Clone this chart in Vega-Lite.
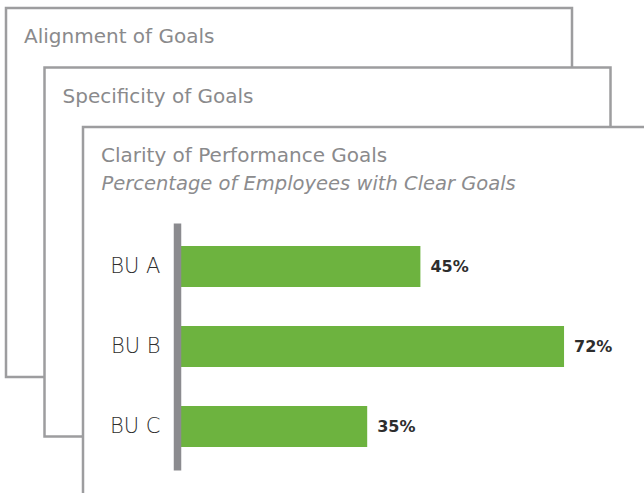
{
  "$schema": "https://vega.github.io/schema/vega-lite/v6.json",
  "width": 644,
  "height": 493,
  "autosize": {"type": "none"},
  "padding": 0,
  "background": "white",
  "config": {"view": {"stroke": null}, "font": "DejaVu Sans"},
  "resolve": {"scale": {"x": "independent", "y": "independent"}, "axis": {"x": "independent", "y": "independent"}},
  "layer": [
    {
      "data": {"values": [
        {"level": 0, "title": "Alignment of Goals", "subtitle": ""},
        {"level": 1, "title": "Specificity of Goals", "subtitle": ""},
        {"level": 2, "title": "Clarity of Performance Goals", "subtitle": "Percentage of Employees with Clear Goals"}
      ]},
      "encoding": {
        "x": {"field": "level", "type": "quantitative", "scale": {"domain": [0, 1], "range": [289, 327.5], "zero": false, "nice": false}, "axis": null},
        "y": {"field": "level", "type": "quantitative", "scale": {"domain": [0, 1], "range": [192.5, 252], "zero": false, "nice": false}, "axis": null}
      },
      "layer": [
        {"mark": {"type": "rect", "width": 566, "height": 369, "fill": "white", "stroke": "#9d9d9f", "strokeWidth": 2.5}},
        {"mark": {"type": "text", "align": "left", "baseline": "middle", "dx": -265, "dy": -155.5, "fontSize": 20, "fontWeight": 400, "color": "#8a8a8c"},
         "encoding": {"text": {"field": "title"}}},
        {"mark": {"type": "text", "align": "left", "baseline": "middle", "dx": -264.5, "dy": -127.5, "fontSize": 19.5, "fontStyle": "italic", "fontWeight": 400, "color": "#8c8c8e"},
         "encoding": {"text": {"field": "subtitle"}}}
      ]
    },
    {
      "data": {"values": [
        {"unit": "BU A", "share": 0.45},
        {"unit": "BU B", "share": 0.72},
        {"unit": "BU C", "share": 0.35}
      ]},
      "encoding": {
        "y": {"field": "unit", "type": "nominal", "sort": null,
              "scale": {"range": [223, 470], "paddingInner": 0.4875, "paddingOuter": 0.2875},
              "axis": {"orient": "left", "offset": -177, "zindex": 1, "title": null, "ticks": false, "tickSize": 0, "domainColor": "#8b8b8f", "domainWidth": 7.5, "labelPadding": 17, "labelFontSize": 21, "labelFontWeight": 200, "labelColor": "#2e2e2e", "labelFont": "DejaVu Sans", "grid": false}},
        "x": {"field": "share", "type": "quantitative", "scale": {"domain": [0, 1], "range": [181, 713], "nice": false}, "axis": null}
      },
      "layer": [
        {"mark": {"type": "bar", "color": "#6db33f"}},
        {"mark": {"type": "text", "align": "left", "baseline": "middle", "dx": 10, "fontSize": 16, "fontWeight": 700, "color": "#2d2d2d"},
         "encoding": {"text": {"field": "share", "type": "quantitative", "format": ".0%"}}}
      ]
    }
  ]
}
